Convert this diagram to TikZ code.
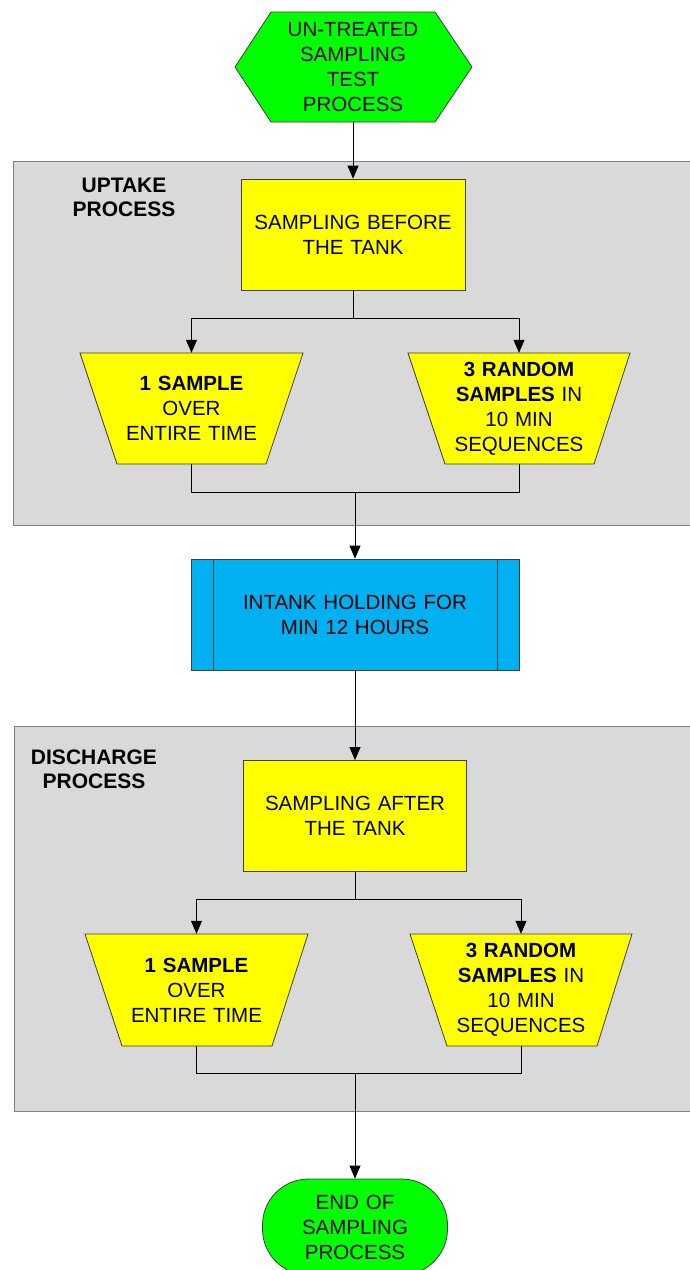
\documentclass[tikz,border=0pt]{standalone}
\usepackage{fontspec}
\setmainfont{Liberation Sans}
\usetikzlibrary{arrows.meta}
\definecolor{grayfill}{HTML}{D9D9D9}
\definecolor{grayedge}{HTML}{7F7F7F}
\definecolor{ybox}{HTML}{FFFF00}
\definecolor{gbox}{HTML}{00FF00}
\definecolor{bbox}{HTML}{00B0F0}
\definecolor{edge}{HTML}{404040}
\begin{document}
\begin{tikzpicture}[x=1pt,y=-1pt,
  txt/.style={font=\fontsize{20.5}{25}\selectfont, align=center, inner sep=0pt},
  panel/.style={draw=grayedge, fill=grayfill, line width=1pt},
  paneltitle/.style={font=\fontsize{21}{24}\selectfont\bfseries, align=center, inner sep=0pt},
  yellowbox/.style={txt, draw=edge, fill=ybox, line width=0.8pt, minimum width=224pt, minimum height=111pt, text width=215pt},
  shapefill/.style={draw=edge, line width=0.8pt},
  traptext/.style={txt, minimum height=111pt, text width=200pt},
  holdbox/.style={txt, draw=edge, fill=bbox, line width=0.8pt, minimum width=328pt, minimum height=111pt, text width=300pt},
  endbox/.style={txt, draw=edge, fill=gbox, line width=0.8pt, minimum width=185pt, minimum height=96pt, rounded corners=46pt, text width=170pt},
  conn/.style={draw=black, line width=0.8pt},
  arr/.style={conn, -{Triangle[length=13pt,width=11pt]}}
]
\useasboundingbox (0,0) rectangle (689,1270);
\fill[white] (0,0) rectangle (689,1270);

% panels
\draw[panel] (13,161) rectangle (700,525);
\draw[panel] (14,726) rectangle (700,1111);
\node[paneltitle] (uptake) at (124,197) {UPTAKE\\PROCESS};
\node[paneltitle] (discharge) at (94,769) {DISCHARGE\\PROCESS};

% start hexagon
\draw[shapefill, fill=gbox] (271,12) -- (435,12) -- (472,67) -- (435,122) -- (271,122) -- (235,67) -- cycle;
\node[txt, minimum height=110pt, text width=160pt] (start) at (353,67) {UN-TREATED\\SAMPLING\\TEST\\PROCESS};

% uptake
\node[yellowbox] (before) at (353,234.5) {SAMPLING BEFORE\\THE TANK};
\draw[shapefill, fill=ybox] (80,353) -- (303,353) -- (266,464) -- (117,464) -- cycle;
\node[traptext] (upone) at (191.5,408.5) {\textbf{1 SAMPLE}\\OVER\\ENTIRE TIME};
\draw[shapefill, fill=ybox] (408,353) -- (630,353) -- (594,464) -- (445,464) -- cycle;
\node[traptext] (upthree) at (519,408.5) {\textbf{3 RANDOM}\\\textbf{SAMPLES} IN\\10 MIN\\SEQUENCES};

% holding
\node[holdbox] (hold) at (355,614.5) {INTANK HOLDING FOR\\MIN 12 HOURS};
\draw[edge, line width=0.8pt] ([xshift=23pt]hold.north west) -- ([xshift=23pt]hold.south west);
\draw[edge, line width=0.8pt] ([xshift=-22pt]hold.north east) -- ([xshift=-22pt]hold.south east);

% discharge
\node[yellowbox, minimum width=223pt] (after) at (355,816) {SAMPLING AFTER\\THE TANK};
\draw[shapefill, fill=ybox] (85,934) -- (308,934) -- (272,1046) -- (122,1046) -- cycle;
\node[traptext, minimum height=112pt] (dnone) at (196.5,990) {\textbf{1 SAMPLE}\\OVER\\ENTIRE TIME};
\draw[shapefill, fill=ybox] (410,934) -- (632,934) -- (597,1046) -- (447,1046) -- cycle;
\node[traptext, minimum height=112pt] (dnthree) at (521,990) {\textbf{3 RANDOM}\\\textbf{SAMPLES} IN\\10 MIN\\SEQUENCES};

% end
\node[endbox] (finish) at (355,1227) {END OF\\SAMPLING\\PROCESS};

% connectors
\coordinate (br1) at (353,318);
\coordinate (jn1) at (355,492);
\coordinate (br2) at (355,899);
\coordinate (jn2) at (355,1073);

\draw[arr] (start.south) -- (before.north);
\draw[conn] (before.south) -- (br1);
\draw[arr] (br1) -| (upone.north);
\draw[arr] (br1) -| (upthree.north);
\draw[conn] (upone.south) |- (jn1);
\draw[conn] (upthree.south) |- (jn1);
\draw[arr] (jn1) -- (hold.north);
\draw[arr] (hold.south) -- (after.north);
\draw[conn] (after.south) -- (br2);
\draw[arr] (br2) -| (dnone.north);
\draw[arr] (br2) -| (dnthree.north);
\draw[conn] (dnone.south) |- (jn2);
\draw[conn] (dnthree.south) |- (jn2);
\draw[arr] (jn2) -- (finish.north);
\end{tikzpicture}
\end{document}
